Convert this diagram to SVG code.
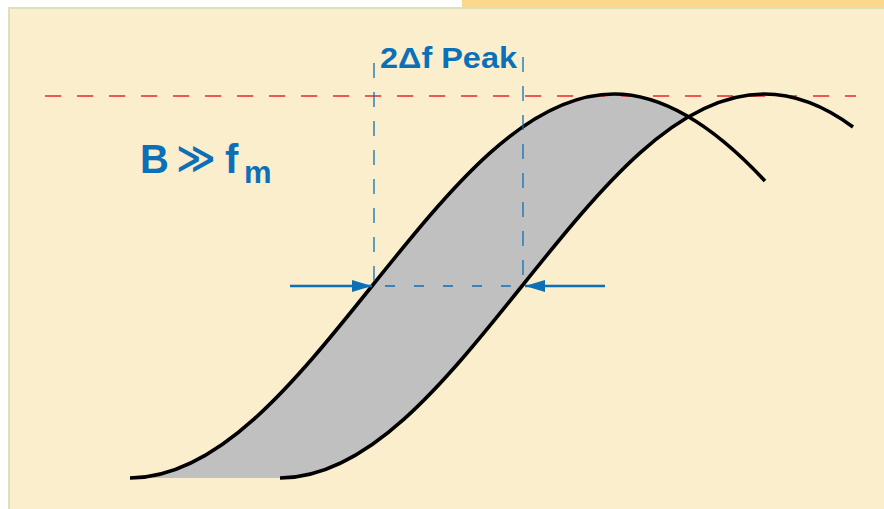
<svg xmlns="http://www.w3.org/2000/svg" width="884" height="509" viewBox="0 0 884 509">
<style>
.lbl{font-family:"Liberation Sans","DejaVu Sans",Arial,sans-serif;font-weight:bold;fill:#0B70B8}
.curve{fill:none;stroke:#000;stroke-width:3.6}
.vdash{stroke:#0B70B8;stroke-width:1.3;stroke-dasharray:15 14;fill:none}
.arrow{stroke:#0B70B8;stroke-width:2.5;fill:none}
</style>
<defs>
<marker id="ah" viewBox="0 0 20 12" refX="20" refY="6" markerWidth="20" markerHeight="12" markerUnits="userSpaceOnUse" orient="auto">
<path d="M0,0 L20,6 L0,12 Z" fill="#0B70B8"/>
</marker>
</defs>
<rect x="0" y="0" width="884" height="509" fill="#FFFFFF"/>
<rect x="462" y="0" width="422" height="8" fill="#FAD98E"/>
<rect x="8" y="7" width="876" height="502" fill="#FBEECD"/>
<path d="M9,509 V8 H884" fill="none" stroke="#DEDFBF" stroke-width="2"/>
<g id="band">
<path d="M130,478 C217.58,478 293.08,384.36 372,286 C450.92,187.64 526.42,94 614,94 C639,94 664,101.7 689,116.3 C633.33,148.75 577.67,216.62 522,286 C443.08,384.36 367.58,478 280,478 Z" fill="#C0C0C0"/>
</g>
<g id="peak-line">
<line x1="45" y1="96" x2="856" y2="96" stroke="#EE5A52" stroke-width="2" stroke-dasharray="16 16"/>
</g>
<g id="curve1">
<path class="curve" d="M130,478 C217.58,478 293.08,384.36 372,286 C450.92,187.64 526.42,94 614,94 C664.33,94 714.67,126.92 765,181"/>
</g>
<g id="curve2">
<path class="curve" d="M280,478 C367.58,478 443.08,384.36 522,286 C600.92,187.64 676.42,94 764,94 C793.67,94 823.33,105 853,127"/>
</g>
<g id="connectors">
<line class="vdash" x1="374" y1="63" x2="374" y2="286"/>
<line class="vdash" x1="523" y1="57" x2="523" y2="286"/>
<line x1="385" y1="286" x2="523" y2="286" stroke="#0B70B8" stroke-width="1.3" stroke-dasharray="10 19"/>
<line class="arrow" x1="290" y1="286" x2="372" y2="286" marker-end="url(#ah)"/>
<line class="arrow" x1="605" y1="286" x2="525" y2="286" marker-end="url(#ah)"/>
</g>
<g id="label-peak">
<text class="lbl" x="380" y="68" font-size="30" textLength="137" lengthAdjust="spacingAndGlyphs">2Δf Peak</text>
</g>
<g id="label-b">
<text class="lbl" x="140" y="173" font-size="40">B</text>
<text class="lbl" x="176" y="171" font-size="38" font-weight="normal" style="font-family:'DejaVu Sans',sans-serif">≫</text>
<text class="lbl" x="225" y="173" font-size="40">f</text>
<text class="lbl" x="244" y="183" font-size="31">m</text>
</g>
</svg>
